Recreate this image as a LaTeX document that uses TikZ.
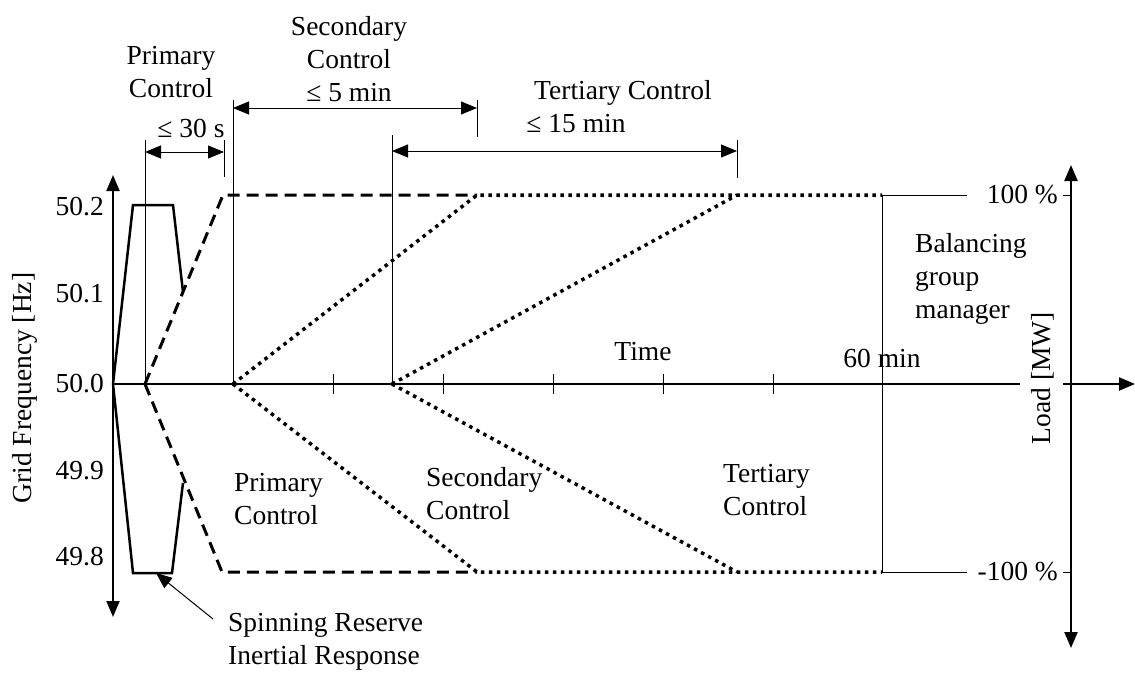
\documentclass[tikz,border=0pt]{standalone}
\usepackage{fontspec}
\setmainfont{Liberation Serif}
\usetikzlibrary{arrows.meta}
\begin{document}
\begin{tikzpicture}[x=1pt,y=-1pt,
  font=\fontsize{27.5}{33}\selectfont,
  axis/.style={line width=2.2pt},
  thinline/.style={line width=1pt},
  headtip/.style={-{Triangle[length=16pt,width=13pt]}},
  bothtips/.style={{Triangle[length=16pt,width=13pt]}-{Triangle[length=16pt,width=13pt]}},
  solidcurve/.style={line width=2.5pt},
  dashedcurve/.style={line width=3pt, dash pattern=on 12pt off 7pt},
  dottedcurve/.style={line width=3.5pt, line cap=butt, dash pattern=on 3.5pt off 4.5pt},
  lbl/.style={inner sep=0pt, align=center},
  lbll/.style={inner sep=0pt, align=left},
]
\useasboundingbox (0,0) rectangle (1135,680);

% coordinates
\coordinate (O) at (113,384);
\coordinate (ltop) at (113,175);
\coordinate (lbot) at (113,617);
\coordinate (hgapL) at (1020,384);
\coordinate (hgapR) at (1063,384);
\coordinate (hend) at (1135,384);
\coordinate (rtop) at (1071,165);
\coordinate (rbot) at (1071,648);
\coordinate (rt1) at (1063,195);
\coordinate (rt1e) at (1071,195);
\coordinate (rt2) at (1063,572);
\coordinate (rt2e) at (1071,572);

% axes
\draw[axis,bothtips] (ltop) -- (lbot);
\draw[axis] (O) -- (hgapL);
\draw[axis,headtip] (hgapR) -- (hend);
\draw[axis,bothtips] (rtop) -- (rbot);
\draw[thinline] (rt1) -- (rt1e);
\draw[thinline] (rt2) -- (rt2e);

% ticks on time axis
\foreach \t in {333,443,553,663,773}
  \draw[thinline] (\t,374) -- (\t,394);

% vertical guide lines
\coordinate (p1t) at (145,140); \coordinate (p1b) at (145,384);
\coordinate (p2t) at (224,140); \coordinate (p2b) at (224,177);
\coordinate (s1t) at (233,100); \coordinate (s1b) at (233,384);
\coordinate (s2t) at (477,100); \coordinate (s2b) at (477,137);
\coordinate (t1t) at (392,135); \coordinate (t1b) at (392,384);
\coordinate (t2t) at (737,140); \coordinate (t2b) at (737,178);
\coordinate (m60t) at (882,195); \coordinate (m60b) at (882,572);
\coordinate (pct1) at (967,195); \coordinate (pct2) at (967,572);
\draw[thinline] (p1t) -- (p1b);
\draw[thinline] (p2t) -- (p2b);
\draw[thinline] (s1t) -- (s1b);
\draw[thinline] (s2t) -- (s2b);
\draw[thinline] (t1t) -- (t1b);
\draw[thinline] (t2t) -- (t2b);
\draw[thinline] (m60t) -- (m60b);
\draw[thinline] (m60t) -- (pct1);
\draw[thinline] (m60b) -- (pct2);

% dimension arrows
\coordinate (d1a) at (145,152); \coordinate (d1b) at (224,152);
\coordinate (d2a) at (233,108); \coordinate (d2b) at (477,108);
\coordinate (d3a) at (392,151); \coordinate (d3b) at (737,151);
\draw[thinline,bothtips] (d1a) -- (d1b);
\draw[thinline,bothtips] (d2a) -- (d2b);
\draw[thinline,bothtips] (d3a) -- (d3b);

% frequency curve (solid)
\draw[solidcurve] (O) -- (133,205) -- (173,205) -- (183,292);
\draw[solidcurve] (O) -- (133,573) -- (172,573) -- (183,483);

% primary control (dashed)
\draw[dashedcurve] (145,384) -- (223,195) -- (477,195);
\draw[dashedcurve] (145,384) -- (222,572) -- (477,572);

% secondary / tertiary (dotted)
\draw[dottedcurve] (233,384) -- (477,195) -- (882,195);
\draw[dottedcurve] (392,384) -- (737,195);
\draw[dottedcurve] (233,384) -- (477,572) -- (882,572);
\draw[dottedcurve] (392,384) -- (737,572);

% labels
\node[lbl] (primtop) at (171,72) {Primary\\Control};
\node[lbl] (le30) at (191,128) {≤ 30 s};
\node[lbl] (sectop) at (349,59) {Secondary\\Control\\≤ 5 min};
\node[lbl] (terttop) at (623,93) {Tertiary Control};
\node[lbl] (le15) at (576,124) {≤ 15 min};
\node[lbl,rotate=90] (gridf) at (25,388) {Grid Frequency [Hz]};
\node[lbl,anchor=east] (f502) at (104,207) {50.2};
\node[lbl,anchor=east] (f501) at (104,294) {50.1};
\node[lbl,anchor=east] (f500) at (104,384) {50.0};
\node[lbl,anchor=east] (f499) at (104,471) {49.9};
\node[lbl,anchor=east] (f498) at (104,557) {49.8};
\node[lbl] (time) at (643,352) {Time};
\node[lbl] (m60) at (882,358) {60 min};
\node[lbll,anchor=west] (bal) at (915,279) {Balancing\\group\\manager};
\node[lbl,anchor=east] (p100) at (1058,195) {100 \%};
\node[lbl,anchor=east] (m100) at (1058,572) {-100 \%};
\node[lbl,rotate=90] (load) at (1043,378) {Load [MW]};
\node[lbll,anchor=west] (primbot) at (234,499) {Primary\\Control};
\node[lbll,anchor=west] (secbot) at (426,494) {Secondary\\Control};
\node[lbll,anchor=west] (tertbot) at (723,490) {Tertiary\\Control};
\node[lbll,anchor=west] (spin) at (228,642) {Spinning Reserve\\Inertial Response};

% annotation arrow
\coordinate (srtip) at (156,573);
\coordinate (srtail) at (213,619);
\draw[thinline,headtip] (srtail) -- (srtip);
\end{tikzpicture}
\end{document}
